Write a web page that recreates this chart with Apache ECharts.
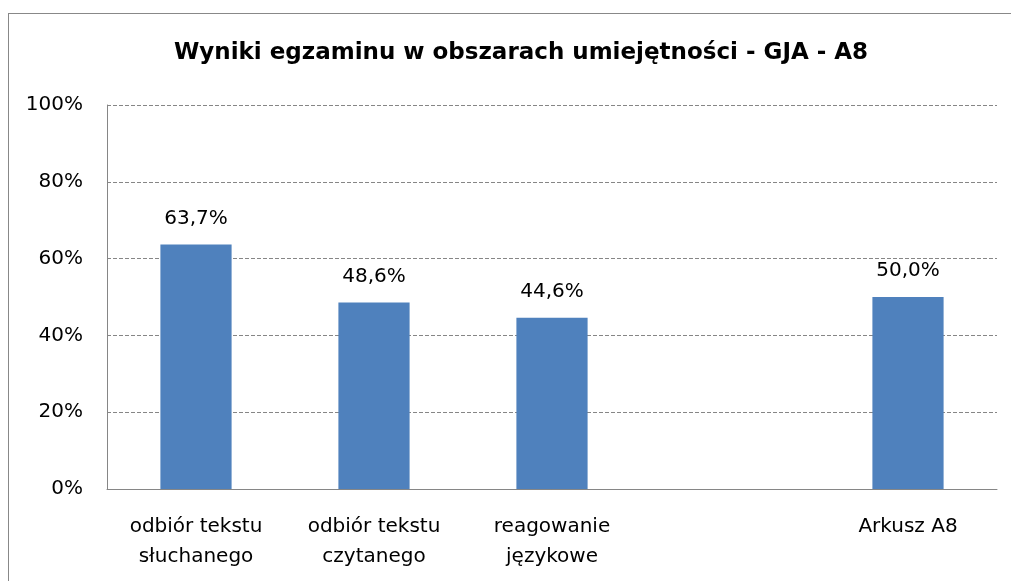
<!DOCTYPE html>
<html>
<head>
<meta charset="utf-8">
<script src="https://cdn.jsdelivr.net/npm/echarts@6/dist/echarts.min.js"></script>
<style>
  html, body { margin: 0; padding: 0; background: #fff; }
  .container { position: relative; width: 1011px; height: 581px; overflow: hidden; }
  .frame { position: absolute; left: 8px; top: 13px; width: 1010px; height: 600px; border: 1px solid #888; box-sizing: border-box; }
  #chart { position: absolute; left: 0; top: 0; width: 1011px; height: 581px; }
</style>
</head>
<body>
<div class="container">
  <div class="frame"></div>
  <div id="chart"></div>
</div>
<script>
// dane z wykresu
const categories = ['odbiór tekstu\nsłuchanego', 'odbiór tekstu\nczytanego', 'reagowanie\njęzykowe', '', 'Arkusz A8']
const values = [63.7, 48.6, 44.6, null, 50.0]
const yTicks = [0, 20, 40, 60, 80, 100]

const font = 'DejaVu Sans'
const chart = echarts.init(document.getElementById('chart'))

const option = {
  animation: false,
  title: {
    text: 'Wyniki egzaminu w obszarach umiejętności - GJA - A8',
    left: 516,
    top: 37,
    textAlign: 'center',
    textStyle: {
      fontFamily: font,
      fontSize: 23,
      fontWeight: 'bold',
      color: '#000',
    },
  },
  grid: {
    left: 107,
    right: 14,
    top: 105,
    bottom: 92,
  },
  xAxis: {
    type: 'category',
    data: categories,
    axisTick: { show: false },
    axisLine: {
      show: true,
      lineStyle: { color: '#868686', width: 1 },
    },
    axisLabel: {
      interval: 0,
      fontFamily: font,
      fontSize: 20,
      color: '#000',
      lineHeight: 30,
      margin: 23,
    },
  },
  yAxis: {
    type: 'value',
    min: yTicks[0],
    max: yTicks[yTicks.length - 1],
    interval: 20,
    axisLine: {
      show: true,
      lineStyle: { color: '#868686', width: 1 },
    },
    axisTick: { show: false },
    splitLine: {
      show: true,
      lineStyle: { color: '#868686', type: [4, 2], width: 1 },
    },
    axisLabel: {
      fontFamily: font,
      fontSize: 20,
      color: '#000',
      margin: 24,
      formatter: (v) => v + '%',
    },
  },
  series: [
    {
      type: 'bar',
      data: values,
      barWidth: '40%',
      itemStyle: { color: '#4F81BD' },
      label: {
        show: true,
        position: 'top',
        distance: 16,
        fontFamily: font,
        fontSize: 20,
        color: '#000',
        formatter: (p) => p.value.toFixed(1).replace('.', ',') + '%',
      },
    },
  ],
}

chart.setOption(option)
</script>
</body>
</html>
